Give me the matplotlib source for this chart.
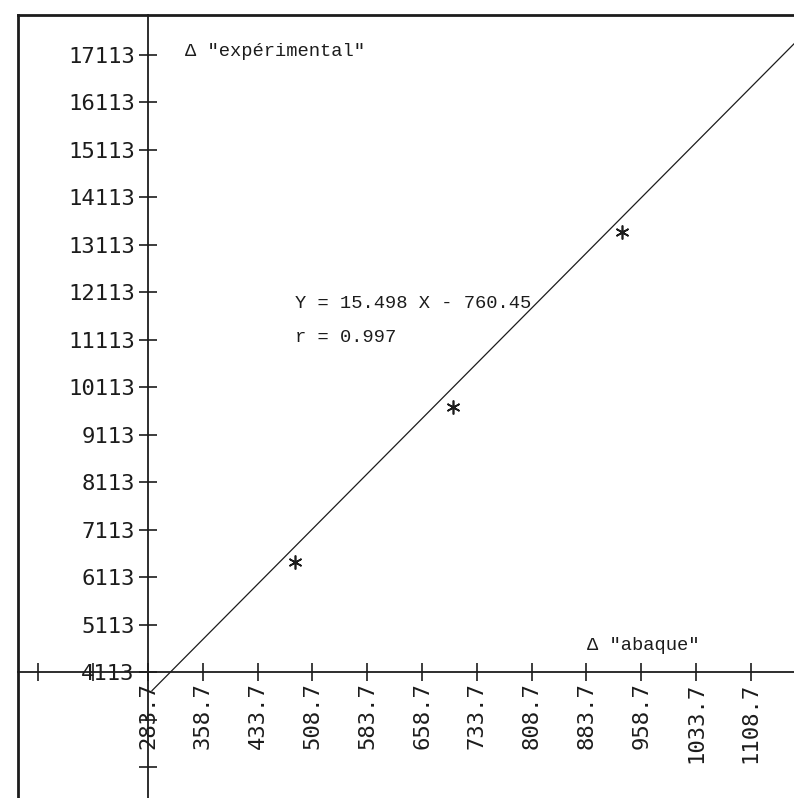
import numpy as np
import matplotlib
matplotlib.use("Agg")
import matplotlib.pyplot as plt
from matplotlib.ticker import FixedLocator, FixedFormatter

# measured points: abacus delta vs experimental delta
abaque = [484.9, 701.1, 932.4]
experimental = [6429, 9691, 13375]

# regression reported on the plot
slope = 15.498
intercept = -760.45
r_value = 0.997
fit_x = np.array([289.2, 1180.0])

# plotter axes: origin and graduations
x0, y0 = 283.7, 4113
x_ticks = [133.7 + 75 * k for k in range(14)]
x_labels = [f"{v:.1f}" if v >= x0 else "" for v in x_ticks]
y_ticks = [2113 + 1000 * k for k in range(16)]
y_labels = [str(v) if v >= y0 else "" for v in y_ticks]

ink = "#1c1c1c"
tick_font = "DejaVu Sans Mono"
text_font = "Liberation Mono"

fig = plt.figure(figsize=(7.94, 7.98), dpi=100)
ax = fig.add_axes([18 / 794, 0, 776 / 794, 783 / 798])
ax.set_xlim(105.8, 1167.8)
ax.set_ylim(1461, 17945)

# axes crossing at the origin of the graduations
ax.spines["left"].set_position(("data", x0))
ax.spines["bottom"].set_position(("data", y0))
ax.spines["right"].set_visible(False)
for side in ("left", "bottom"):
    ax.spines[side].set_linewidth(1.3)
    ax.spines[side].set_color(ink)
ax.spines["top"].set_linewidth(2.0)
ax.spines["top"].set_color(ink)
# outer frame on the left
ax.plot([0, 0], [0, 1], transform=ax.transAxes, color=ink, lw=2.0, clip_on=False)

ax.xaxis.set_major_locator(FixedLocator(x_ticks))
ax.xaxis.set_major_formatter(FixedFormatter(x_labels))
ax.yaxis.set_major_locator(FixedLocator(y_ticks))
ax.yaxis.set_major_formatter(FixedFormatter(y_labels))
ax.tick_params(axis="both", direction="inout", length=13, width=1.2, color=ink,
               labelcolor=ink)
ax.tick_params(axis="y", pad=3, labelsize=16)
ax.tick_params(axis="x", pad=1, labelsize=16, labelrotation=90)
for lab in ax.get_xticklabels() + ax.get_yticklabels():
    lab.set_family(tick_font)
    lab.set_fontweight("light")

# regression line and measured points
ax.plot(fit_x, slope * fit_x + intercept, color=ink, lw=0.9)
ax.plot(abaque, experimental, linestyle="none", marker=(6, 2, 0),
        markersize=10, mew=1.2, color=ink)


def put(px, py, s, size=13.5):
    # place text in pixel coordinates measured from the top-left corner
    fig.text(px / 794, 1 - py / 798, s, family=[text_font, "DejaVu Sans"],
             fontsize=size, color=ink, ha="left", va="center")


put(185, 52, 'Δ "expérimental"')
put(295, 303, f"Y = {slope} X - {abs(intercept):.2f}")
put(295, 338, f"r = {r_value}")
put(587, 645, 'Δ "abaque"')

fig.savefig("out.png", dpi=100, facecolor="white")
